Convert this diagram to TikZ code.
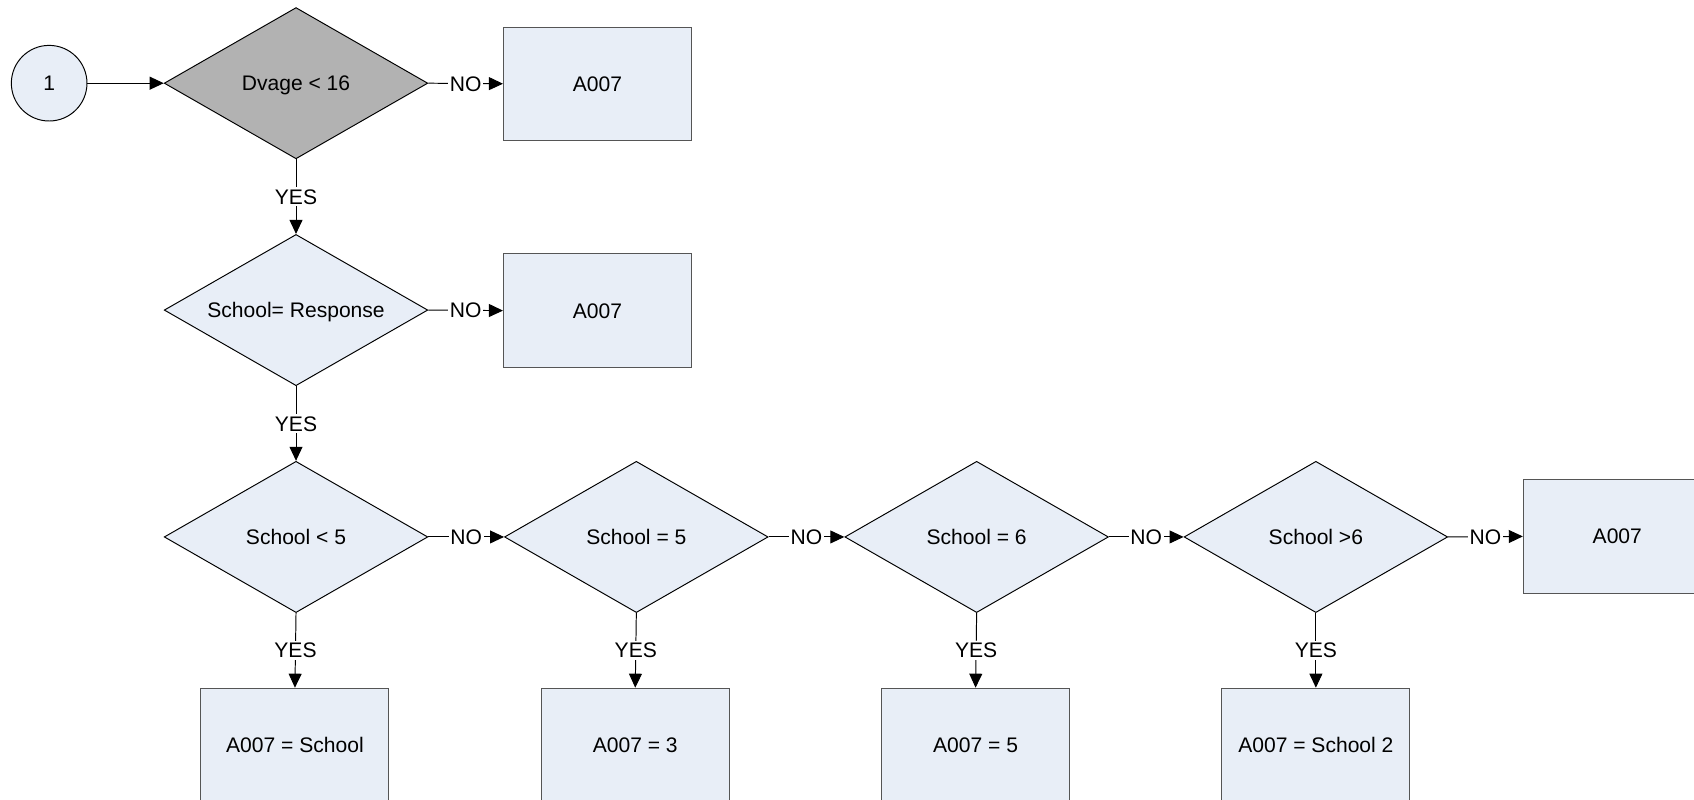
\documentclass[tikz,border=0pt]{standalone}
\usepackage{fontspec}
\setmainfont{Liberation Sans}
\usetikzlibrary{shapes.geometric,arrows.meta}
\definecolor{boxfill}{RGB}{232,238,247}
\definecolor{greyfill}{RGB}{178,178,178}
\definecolor{boxline}{RGB}{85,85,85}
\tikzset{
  every node/.style={font=\fontsize{19.5}{23}\selectfont, text height=14pt, text depth=0pt},
  dec/.style={shape=diamond, aspect=1.75, draw=black, fill=boxfill, line width=0.9pt, minimum width=244pt, minimum height=140pt, inner sep=0pt},
  decg/.style={dec, fill=greyfill},
  rbox/.style={rectangle, draw=boxline, fill=boxfill, line width=0.9pt, minimum width=174pt, minimum height=105pt, inner sep=0pt},
  startc/.style={circle, draw=black, fill=boxfill, line width=0.9pt, minimum size=70pt, inner sep=0pt},
  arr/.style={line width=0.9pt, -{Triangle[length=13pt,width=12pt]}},
  lbl/.style={fill=white, inner sep=1.5pt}
}
\begin{document}
\begin{tikzpicture}[x=1pt,y=-1pt]
\useasboundingbox (0,0) rectangle (1568,740);
\node[startc] (c1) at (45.5,77) {1};
\node[decg] (d1) at (274,77) {Dvage < 16};
\node[rbox] (b1) at (553,77.5) {A007};
\node[dec] (d2) at (274,287) {School= Response};
\node[rbox] (b2) at (553,287.5) {A007};
\node[dec] (d3) at (274,497) {School < 5};
\node[dec] (d4) at (589,497) {School = 5};
\node[dec] (d5) at (904,497) {School = 6};
\node[dec] (d6) at (1218,497) {School >6};
\node[rbox] (b3) at (1497,496.5) {A007};
\node[rbox] (e3) at (273,689.5) {A007 = School};
\node[rbox] (e4) at (588,689.5) {A007 = 3};
\node[rbox] (e5) at (903,689.5) {A007 = 5};
\node[rbox] (e6) at (1218,689.5) {A007 = School 2};

\draw[arr] (c1.east) -- (d1.west);
\draw[arr] (d1.east) -- node[lbl]{NO} (b1.west);
\draw[arr] (d1.south) -- node[lbl]{YES} (d2.north);
\draw[arr] (d2.east) -- node[lbl]{NO} (b2.west);
\draw[arr] (d2.south) -- node[lbl]{YES} (d3.north);
\draw[arr] (d3.east) -- node[lbl]{NO} (d4.west);
\draw[arr] (d4.east) -- node[lbl]{NO} (d5.west);
\draw[arr] (d5.east) -- node[lbl]{NO} (d6.west);
\draw[arr] (d6.east) -- node[lbl]{NO} (b3.west);
\draw[arr] (d3.south) -- node[lbl]{YES} (e3.north);
\draw[arr] (d4.south) -- node[lbl]{YES} (e4.north);
\draw[arr] (d5.south) -- node[lbl]{YES} (e5.north);
\draw[arr] (d6.south) -- node[lbl]{YES} (e6.north);
\end{tikzpicture}
\end{document}
